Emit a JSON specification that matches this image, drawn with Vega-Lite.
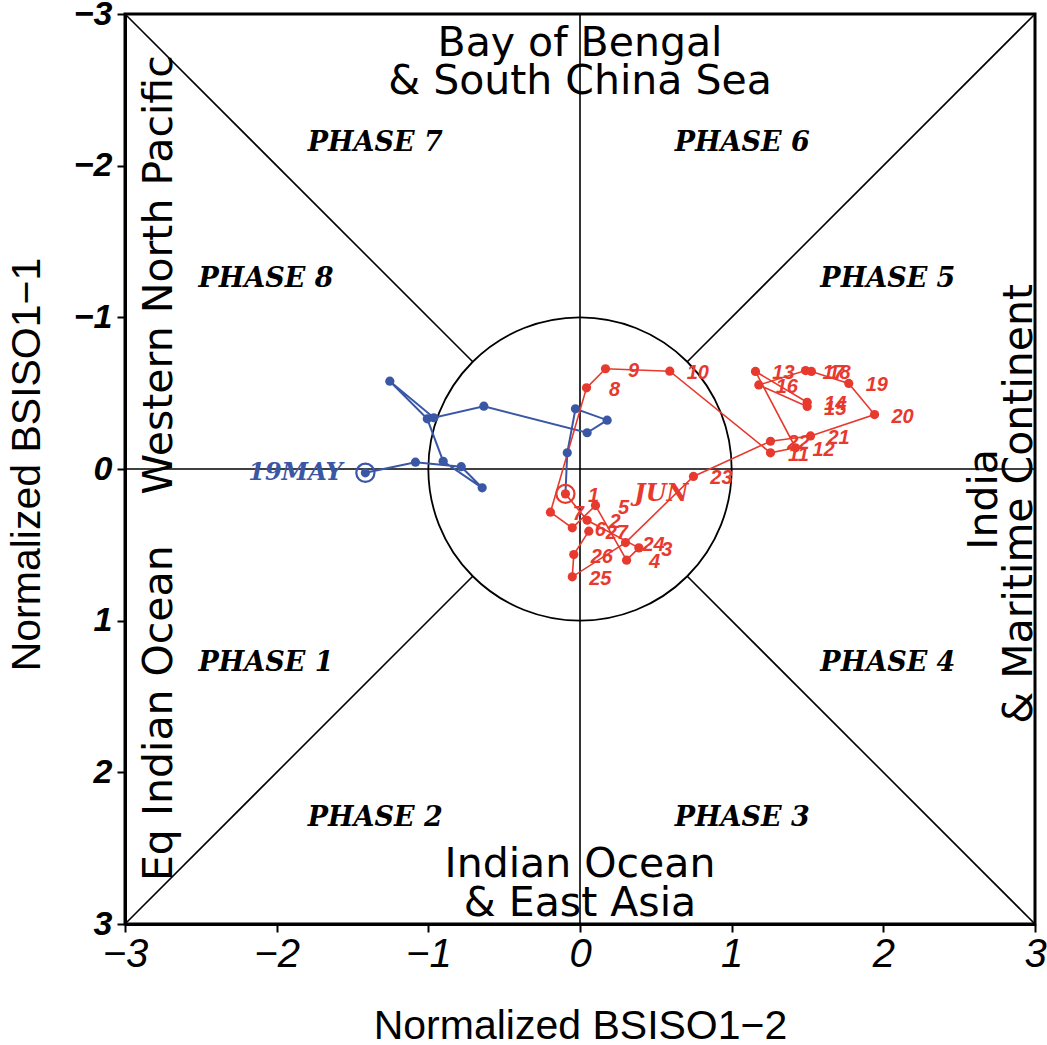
{
  "$schema": "https://vega.github.io/schema/vega-lite/v6.json",
  "width": 910,
  "height": 910,
  "autosize": {"type": "none"},
  "padding": {"left": 125, "top": 14, "right": 12, "bottom": 121},
  "background": "white",
  "config": {
    "view": {"stroke": "black", "strokeWidth": 3},
    "axis": {"grid": false}
  },
  "datasets": {
    "guides": [
      {"x": -3, "y": -3, "x2": -0.7071, "y2": -0.7071},
      {"x": 3, "y": -3, "x2": 0.7071, "y2": -0.7071},
      {"x": -3, "y": 3, "x2": -0.7071, "y2": 0.7071},
      {"x": 3, "y": 3, "x2": 0.7071, "y2": 0.7071},
      {"x": -3, "y": 0, "x2": 3, "y2": 0},
      {"x": 0, "y": -3, "x2": 0, "y2": 3}
    ],
    "unit": [{"x": 0, "y": 0}],
    "track": [
      {"month": "May", "date": "05-19", "day": 19, "x": -1.415, "y": 0.025},
      {"month": "May", "date": "05-20", "day": 20, "x": -1.085, "y": -0.045},
      {"month": "May", "date": "05-21", "day": 21, "x": -0.783, "y": -0.015},
      {"month": "May", "date": "05-22", "day": 22, "x": -0.645, "y": 0.124},
      {"month": "May", "date": "05-23", "day": 23, "x": -0.902, "y": -0.051},
      {"month": "May", "date": "05-24", "day": 24, "x": -1.007, "y": -0.331},
      {"month": "May", "date": "05-25", "day": 25, "x": -1.254, "y": -0.579},
      {"month": "May", "date": "05-26", "day": 26, "x": -0.964, "y": -0.338},
      {"month": "May", "date": "05-27", "day": 27, "x": -0.634, "y": -0.414},
      {"month": "May", "date": "05-28", "day": 28, "x": 0.047, "y": -0.239},
      {"month": "May", "date": "05-29", "day": 29, "x": 0.179, "y": -0.322},
      {"month": "May", "date": "05-30", "day": 30, "x": -0.03, "y": -0.397},
      {"month": "May", "date": "05-31", "day": 31, "x": -0.084, "y": -0.107},
      {"month": "Jun", "date": "06-01", "day": 1, "x": -0.096, "y": 0.164},
      {"month": "Jun", "date": "06-02", "day": 2, "x": 0.047, "y": 0.338},
      {"month": "Jun", "date": "06-03", "day": 3, "x": 0.388, "y": 0.52},
      {"month": "Jun", "date": "06-04", "day": 4, "x": 0.307, "y": 0.601},
      {"month": "Jun", "date": "06-05", "day": 5, "x": 0.102, "y": 0.241},
      {"month": "Jun", "date": "06-06", "day": 6, "x": -0.051, "y": 0.388},
      {"month": "Jun", "date": "06-07", "day": 7, "x": -0.195, "y": 0.285},
      {"month": "Jun", "date": "06-08", "day": 8, "x": 0.043, "y": -0.535},
      {"month": "Jun", "date": "06-09", "day": 9, "x": 0.168, "y": -0.661},
      {"month": "Jun", "date": "06-10", "day": 10, "x": 0.592, "y": -0.645},
      {"month": "Jun", "date": "06-11", "day": 11, "x": 1.256, "y": -0.107},
      {"month": "Jun", "date": "06-12", "day": 12, "x": 1.421, "y": -0.14},
      {"month": "Jun", "date": "06-13", "day": 13, "x": 1.157, "y": -0.643},
      {"month": "Jun", "date": "06-14", "day": 14, "x": 1.498, "y": -0.44},
      {"month": "Jun", "date": "06-15", "day": 15, "x": 1.498, "y": -0.412},
      {"month": "Jun", "date": "06-16", "day": 16, "x": 1.179, "y": -0.554},
      {"month": "Jun", "date": "06-17", "day": 17, "x": 1.487, "y": -0.649},
      {"month": "Jun", "date": "06-18", "day": 18, "x": 1.526, "y": -0.643},
      {"month": "Jun", "date": "06-19", "day": 19, "x": 1.772, "y": -0.564},
      {"month": "Jun", "date": "06-20", "day": 20, "x": 1.942, "y": -0.359},
      {"month": "Jun", "date": "06-21", "day": 21, "x": 1.52, "y": -0.218},
      {"month": "Jun", "date": "06-22", "day": 22, "x": 1.256, "y": -0.183},
      {"month": "Jun", "date": "06-23", "day": 23, "x": 0.748, "y": 0.049},
      {"month": "Jun", "date": "06-24", "day": 24, "x": 0.3, "y": 0.485},
      {"month": "Jun", "date": "06-25", "day": 25, "x": -0.051, "y": 0.711},
      {"month": "Jun", "date": "06-26", "day": 26, "x": -0.041, "y": 0.564},
      {"month": "Jun", "date": "06-27", "day": 27, "x": 0.058, "y": 0.41}
    ],
    "phases": [
      {"label": "PHASE 1", "x": -2.07, "y": 1.28},
      {"label": "PHASE 2", "x": -1.35, "y": 2.3},
      {"label": "PHASE 3", "x": 1.07, "y": 2.3},
      {"label": "PHASE 4", "x": 2.03, "y": 1.28},
      {"label": "PHASE 5", "x": 2.03, "y": -1.25},
      {"label": "PHASE 6", "x": 1.07, "y": -2.15},
      {"label": "PHASE 7", "x": -1.35, "y": -2.15},
      {"label": "PHASE 8", "x": -2.07, "y": -1.25}
    ],
    "regionsAcross": [
      {"label": "Bay of Bengal", "x": 0, "y": -2.8},
      {"label": "& South China Sea", "x": 0, "y": -2.55},
      {"label": "Indian Ocean", "x": 0, "y": 2.61},
      {"label": "& East Asia", "x": 0, "y": 2.87}
    ],
    "regionsUp": [
      {"label": "Western North Pacific", "x": -2.77, "y": -1.28},
      {"label": "Eq Indian Ocean", "x": -2.77, "y": 1.61},
      {"label": "India", "x": 2.67, "y": 0.2},
      {"label": "& Maritime Continent", "x": 2.9, "y": 0.23}
    ],
    "starts": [
      {"label": "19MAY", "month": "May", "x": -1.876, "y": 0.025},
      {"label": "JUN", "month": "Jun", "x": 0.537, "y": 0.168}
    ]
  },
  "encoding": {
    "x": {
      "field": "x",
      "type": "quantitative",
      "scale": {"domain": [-3, 3], "nice": false, "zero": false},
      "axis": {
        "values": [-3, -2, -1, 0, 1, 2, 3],
        "tickSize": 8,
        "tickWidth": 2,
        "tickColor": "black",
        "domainColor": "black",
        "domainWidth": 3,
        "labelFont": "Liberation Sans Narrow, Liberation Sans",
        "labelFontStyle": "italic",
        "labelFontSize": 40,
        "labelColor": "black",
        "labelPadding": 2,
        "labelFlush": false,
        "title": "Normalized BSISO1−2",
        "titleFont": "Liberation Sans",
        "titleFontSize": 41,
        "titleFontWeight": "normal",
        "titleColor": "black",
        "titleBaseline": "alphabetic",
        "titleY": 114
      }
    },
    "y": {
      "field": "y",
      "type": "quantitative",
      "scale": {"domain": [-3, 3], "nice": false, "zero": false, "reverse": true},
      "axis": {
        "values": [-3, -2, -1, 0, 1, 2, 3],
        "tickSize": 8,
        "tickWidth": 2,
        "tickColor": "black",
        "domainColor": "black",
        "domainWidth": 3,
        "labelFont": "Liberation Sans",
        "labelFontStyle": "italic",
        "labelFontWeight": "bold",
        "labelFontSize": 34,
        "labelColor": "black",
        "labelPadding": 5,
        "labelFlush": false,
        "title": "Normalized BSISO1−1",
        "titleFont": "Liberation Sans",
        "titleFontSize": 41,
        "titleFontWeight": "normal",
        "titleColor": "black",
        "titleAngle": 270,
        "titleBaseline": "alphabetic",
        "titleAlign": "center",
        "titleX": -86,
        "titleY": 450
      }
    }
  },
  "layer": [
    {
      "data": {"name": "guides"},
      "mark": {"type": "rule", "color": "black", "strokeWidth": 1.6},
      "encoding": {"x2": {"field": "x2"}, "y2": {"field": "y2"}}
    },
    {
      "data": {"name": "unit"},
      "mark": {"type": "point", "shape": "circle", "filled": false, "size": 92011, "stroke": "black", "strokeWidth": 1.8, "opacity": 1}
    },
    {
      "data": {"name": "track"},
      "transform": [{"filter": "datum.month == 'May' || datum.date == '06-01'"}],
      "mark": {"type": "line", "color": "#3a57a6", "strokeWidth": 2},
      "encoding": {"order": {"field": "date", "type": "ordinal"}}
    },
    {
      "data": {"name": "track"},
      "transform": [{"filter": "datum.month == 'Jun'"}],
      "mark": {"type": "line", "color": "#e8392e", "strokeWidth": 1.6},
      "encoding": {"order": {"field": "date", "type": "ordinal"}}
    },
    {
      "data": {"name": "track"},
      "transform": [{"filter": "datum.month == 'May'"}],
      "mark": {"type": "point", "shape": "circle", "filled": true, "size": 85, "color": "#3a57a6", "opacity": 1}
    },
    {
      "data": {"name": "track"},
      "transform": [{"filter": "datum.month == 'Jun'"}],
      "mark": {"type": "point", "shape": "circle", "filled": true, "size": 85, "color": "#e8392e", "opacity": 1}
    },
    {
      "data": {"name": "track"},
      "transform": [{"filter": "datum.date == '05-19'"}],
      "mark": {"type": "point", "shape": "circle", "filled": false, "size": 330, "stroke": "#3a57a6", "strokeWidth": 2.2, "opacity": 1}
    },
    {
      "data": {"name": "track"},
      "transform": [{"filter": "datum.date == '06-01'"}],
      "mark": {"type": "point", "shape": "circle", "filled": false, "size": 330, "stroke": "#e8392e", "strokeWidth": 2.2, "opacity": 1}
    },
    {
      "data": {"name": "track"},
      "transform": [{"filter": "datum.month == 'Jun'"}],
      "mark": {"type": "text", "font": "Liberation Sans", "fontStyle": "italic", "fontWeight": "bold", "fontSize": 20, "color": "#e8392e", "align": "center", "baseline": "middle", "dx": 28, "dy": 2},
      "encoding": {"text": {"field": "day", "type": "nominal"}}
    },
    {
      "data": {"name": "starts"},
      "mark": {"type": "text", "font": "DejaVu Serif", "fontStyle": "italic", "fontWeight": "bold", "fontSize": 24, "align": "center", "baseline": "middle"},
      "encoding": {
        "text": {"field": "label", "type": "nominal"},
        "color": {"field": "month", "type": "nominal", "scale": {"domain": ["May", "Jun"], "range": ["#3a57a6", "#e8392e"]}, "legend": null}
      }
    },
    {
      "data": {"name": "phases"},
      "mark": {"type": "text", "font": "DejaVu Serif", "fontStyle": "italic", "fontWeight": "bold", "fontSize": 27, "color": "black", "align": "center", "baseline": "middle"},
      "encoding": {"text": {"field": "label", "type": "nominal"}}
    },
    {
      "data": {"name": "regionsAcross"},
      "mark": {"type": "text", "font": "DejaVu Sans", "fontSize": 41, "color": "black", "align": "center", "baseline": "middle"},
      "encoding": {"text": {"field": "label", "type": "nominal"}}
    },
    {
      "data": {"name": "regionsUp"},
      "mark": {"type": "text", "font": "DejaVu Sans", "fontSize": 41, "color": "black", "align": "center", "baseline": "middle", "angle": 270},
      "encoding": {"text": {"field": "label", "type": "nominal"}}
    }
  ]
}
